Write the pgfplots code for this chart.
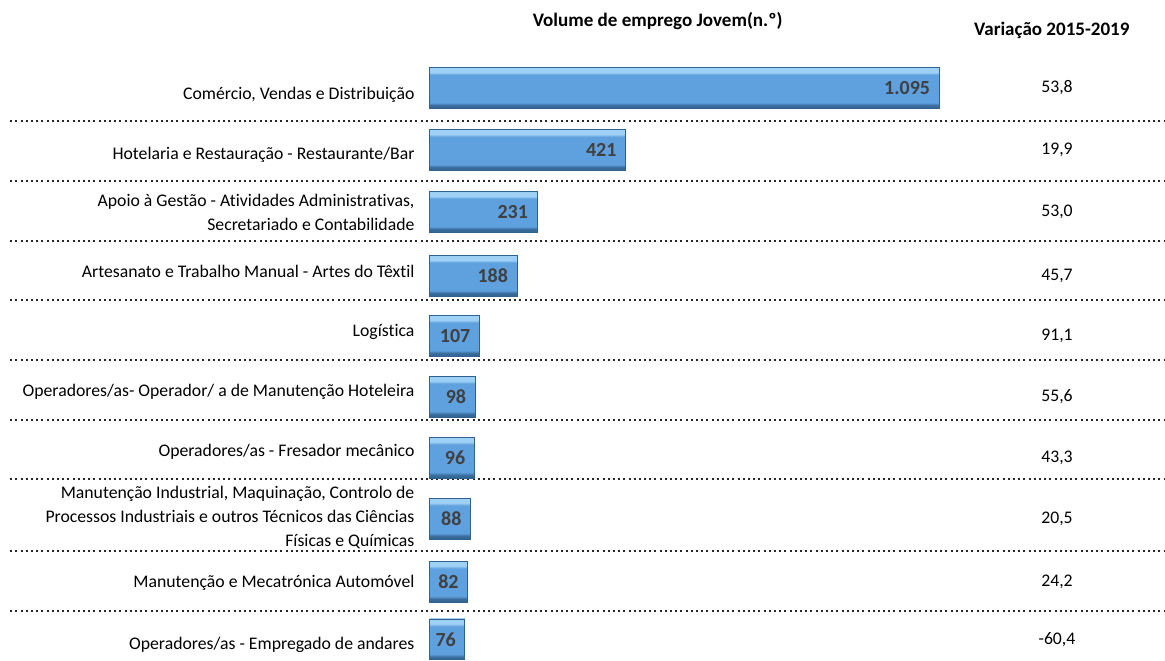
\documentclass[border=0pt]{standalone}
\usepackage{pgfplots}
\pgfplotsset{compat=1.18}
\usepackage{pgfplotstable}
\usepackage{fontspec}
\setmainfont{Carlito}[Ligatures=NoCommon]

\definecolor{bmain}{HTML}{5FA0DE}
\definecolor{blight}{HTML}{9FD0F5}
\definecolor{bdark}{HTML}{31628F}
\definecolor{lbl}{HTML}{404040}
\pgfdeclareverticalshading{bevel}{100bp}{color(0bp)=(bdark); color(25bp)=(bdark);
  color(29bp)=(bdark!80!bmain); color(32bp)=(bmain); color(66bp)=(bmain); color(69bp)=(blight);
  color(75bp)=(blight); color(100bp)=(blight)}

% y = row centre in pixels (top to bottom), vol = youth employment, var = change 2015-2019
\pgfplotstableread{
y   vol   lab    var
88  1095  1.095  53,8
150 421   421    19,9
212 231   231    53,0
276 188   188    45,7
336 107   107    91,1
397 98    98     55,6
458 96    96     43,3
519 88    88     20,5
582 82    82     24,2
640 76    76     -60,4
}\jovem

\begin{document}
\begin{tikzpicture}
\begin{axis}[
    width=873.75pt, height=495pt, scale only axis,
    xmin=-923, xmax=1578, ymin=0, ymax=660, y dir=reverse,
    hide axis, clip=false,
]
\path (rel axis cs:0,0) rectangle (rel axis cs:1,1);

% separators
\foreach \yy in {121,181,241,300,360,420,479,551,612}{
  \edef\tmp{\noexpand\draw[black!85, line width=1.5pt, dash pattern=on 1.5pt off 2.4pt]
    (axis cs:-901,\yy) -- (axis cs:1578,\yy);}
  \tmp
}

% one plot per bar so that each bar gets its own bevel shading
\pgfplotsinvokeforeach{0,...,9}{
\addplot[xbar, bar width=41, shade, shading=bevel, draw=bdark, line width=0.7pt,
    restrict expr to domain={\coordindex}{#1:#1},
    point meta=explicit symbolic,
    nodes near coords,
    nodes near coords style={anchor=east, inner sep=0pt, xshift=-6.5pt, text=lbl,
        font=\fontsize{15}{17}\selectfont\bfseries}]
    table[x=vol, y=y, meta=lab] {\jovem};
}

\addplot[only marks, mark=none, point meta=explicit symbolic,
    nodes near coords,
    nodes near coords style={anchor=center, font=\fontsize{13.3}{16}\selectfont}]
    table[x expr=1348, y=y, meta=var] {\jovem};

\begin{scope}[every node/.style={anchor=east, align=right, inner sep=0pt,
    font=\fontsize{13.3}{18}\selectfont}]
\node at (axis cs:-32,95) {Comércio, Vendas e Distribuição};
\node at (axis cs:-32,155) {Hotelaria e Restauração - Restaurante/Bar};
\node at (axis cs:-32,213) {Apoio à Gestão - Atividades Administrativas,\\Secretariado e Contabilidade};
\node at (axis cs:-32,272) {Artesanato e Trabalho Manual - Artes do Têxtil};
\node at (axis cs:-32,332) {Logística};
\node at (axis cs:-32,392) {Operadores/as- Operador/ a de Manutenção Hoteleira};
\node at (axis cs:-32,452) {Operadores/as - Fresador mecânico};
\node at (axis cs:-32,518) {Manutenção Industrial, Maquinação, Controlo de\\Processos Industriais e outros Técnicos das Ciências\\Físicas e Químicas};
\node at (axis cs:-32,583) {Manutenção e Mecatrónica Automóvel};
\node at (axis cs:-32,645) {Operadores/as - Empregado de andares};
\end{scope}

\node[font=\fontsize{14.3}{16}\selectfont\bfseries] at (axis cs:490,21) {Volume de emprego Jovem(n.º)};
\node[font=\fontsize{14.3}{16}\selectfont\bfseries] at (axis cs:1337,30) {Variação 2015-2019};
\end{axis}
\end{tikzpicture}
\end{document}
